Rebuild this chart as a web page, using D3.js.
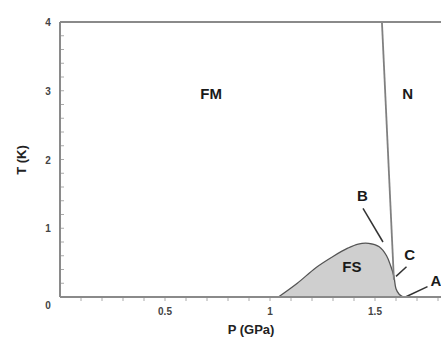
<!DOCTYPE html>
<html>
<head>
<meta charset="utf-8">
<script src="https://cdn.jsdelivr.net/npm/d3@7"></script>
<style>
  body { margin: 0; background: #fff; }
  text { font-family: "Liberation Sans", Arial, sans-serif; font-weight: bold; }
</style>
</head>
<body>
<script>
var svgWidth = 441;
var svgHeight = 340;

var margin = { top: 22, right: 0, bottom: 43, left: 60 };
var width = svgWidth - margin.left - margin.right;
var height = svgHeight - margin.top - margin.bottom;

// FS dome boundary (P in GPa, T in K)
var domeP = [1.04, 1.13, 1.22, 1.30, 1.37, 1.42, 1.47, 1.52, 1.555, 1.575, 1.59, 1.60, 1.615, 1.635];
var domeT = [0.00, 0.20, 0.43, 0.59, 0.71, 0.77, 0.78, 0.73, 0.60, 0.45, 0.30, 0.12, 0.04, 0.00];

// FM / N boundary
var lineP = [1.533, 1.59];
var lineT = [4.0, 0.25];

// pointer lines for labels
var pointers = [
  { name: "B", p: [1.443, 1.538], t: [1.29, 0.80] },
  { name: "C", p: [1.600, 1.650], t: [0.30, 0.44] },
  { name: "A", p: [1.645, 1.750], t: [0.00, 0.15] }
];

var regionLabels = ["FM", "N", "FS"];
var regionP = [0.72, 1.655, 1.39];
var regionT = [2.88, 2.88, 0.37];
var pointerLabelP = [1.44, 1.665, 1.79];
var pointerLabelT = [1.39, 0.54, 0.16];

var xTicks = [0.5, 1, 1.5];
var yTicks = [0, 1, 2, 3, 4];

var svg = d3.select("body").append("svg")
  .attr("width", svgWidth)
  .attr("height", svgHeight);

var chartGroup = svg.append("g")
  .attr("transform", `translate(${margin.left}, ${margin.top})`);

var xScale = d3.scaleLinear().domain([0, width / 210]).range([0, width]);
var yScale = d3.scaleLinear().domain([0, 4]).range([height, 0]);

var axisColor = "#8a8a8a";

// minor ticks
chartGroup.append("g")
  .selectAll("line")
  .data(d3.range(0.1, 1.85, 0.1))
  .enter().append("line")
  .attr("x1", d => xScale(d)).attr("x2", d => xScale(d))
  .attr("y1", height).attr("y2", height + 4)
  .attr("stroke", "#aaa").attr("stroke-width", 1);

chartGroup.append("g")
  .selectAll("line")
  .data(d3.range(0.2, 4, 0.2))
  .enter().append("line")
  .attr("x1", 0).attr("x2", 4)
  .attr("y1", d => yScale(d)).attr("y2", d => yScale(d))
  .attr("stroke", "#aaa").attr("stroke-width", 1);

// FS dome
var domePts = domeP.map((p, i) => [p, domeT[i]]);
chartGroup.append("path")
  .attr("d", d3.line().x(d => xScale(d[0])).y(d => yScale(d[1])).curve(d3.curveCatmullRom)(domePts) + "Z")
  .attr("fill", "#cfcfcf")
  .attr("stroke", "#555")
  .attr("stroke-width", 1.3);

// FM / N boundary
chartGroup.append("path")
  .attr("d", d3.line().x(d => xScale(d[0])).y(d => yScale(d[1]))(lineP.map((p, i) => [p, lineT[i]])))
  .attr("fill", "none")
  .attr("stroke", "#808080")
  .attr("stroke-width", 1.8);

// pointer lines
pointers.forEach(function(ptr) {
  chartGroup.append("path")
    .attr("d", d3.line().x(d => xScale(d[0])).y(d => yScale(d[1]))(ptr.p.map((p, i) => [p, ptr.t[i]])))
    .attr("fill", "none")
    .attr("stroke", "#333")
    .attr("stroke-width", 1.5);
});

// axes frame
chartGroup.append("line")
  .attr("x1", 0).attr("x2", width).attr("y1", height).attr("y2", height)
  .attr("stroke", axisColor).attr("stroke-width", 2);
chartGroup.append("line")
  .attr("x1", 0).attr("x2", 0).attr("y1", 0).attr("y2", height)
  .attr("stroke", axisColor).attr("stroke-width", 2);
chartGroup.append("line")
  .attr("x1", 0).attr("x2", width).attr("y1", 0).attr("y2", 0)
  .attr("stroke", axisColor).attr("stroke-width", 2);

// tick labels
chartGroup.selectAll(".xtick")
  .data(xTicks).enter().append("text")
  .attr("class", "xtick")
  .attr("x", d => xScale(d))
  .attr("y", height + 18)
  .attr("text-anchor", "middle")
  .attr("font-size", 10)
  .attr("fill", "#444")
  .text(d => d);

chartGroup.selectAll(".ytick")
  .data(yTicks).enter().append("text")
  .attr("class", "ytick")
  .attr("x", -12)
  .attr("y", d => yScale(d) + (d === 0 ? 12 : 4))
  .attr("text-anchor", "middle")
  .attr("font-size", 10)
  .attr("fill", "#444")
  .text(d => d);

// axis titles
svg.append("text")
  .attr("x", 251).attr("y", 334)
  .attr("text-anchor", "middle")
  .attr("font-size", 13)
  .attr("fill", "#222")
  .text("P (GPa)");

svg.append("text")
  .attr("transform", "translate(26,160) rotate(-90)")
  .attr("text-anchor", "middle")
  .attr("font-size", 13)
  .attr("fill", "#222")
  .text("T (K)");

// region labels
chartGroup.selectAll(".region")
  .data(regionLabels).enter().append("text")
  .attr("class", "region")
  .attr("x", (d, i) => xScale(regionP[i]))
  .attr("y", (d, i) => yScale(regionT[i]))
  .attr("text-anchor", "middle")
  .attr("font-size", 15)
  .attr("fill", "#1a1a1a")
  .text(d => d);

chartGroup.selectAll(".ptrlabel")
  .data(pointers).enter().append("text")
  .attr("class", "ptrlabel")
  .attr("x", (d, i) => xScale(pointerLabelP[i]))
  .attr("y", (d, i) => yScale(pointerLabelT[i]))
  .attr("text-anchor", "middle")
  .attr("font-size", 15)
  .attr("fill", "#1a1a1a")
  .text(d => d.name);
</script>
</body>
</html>
